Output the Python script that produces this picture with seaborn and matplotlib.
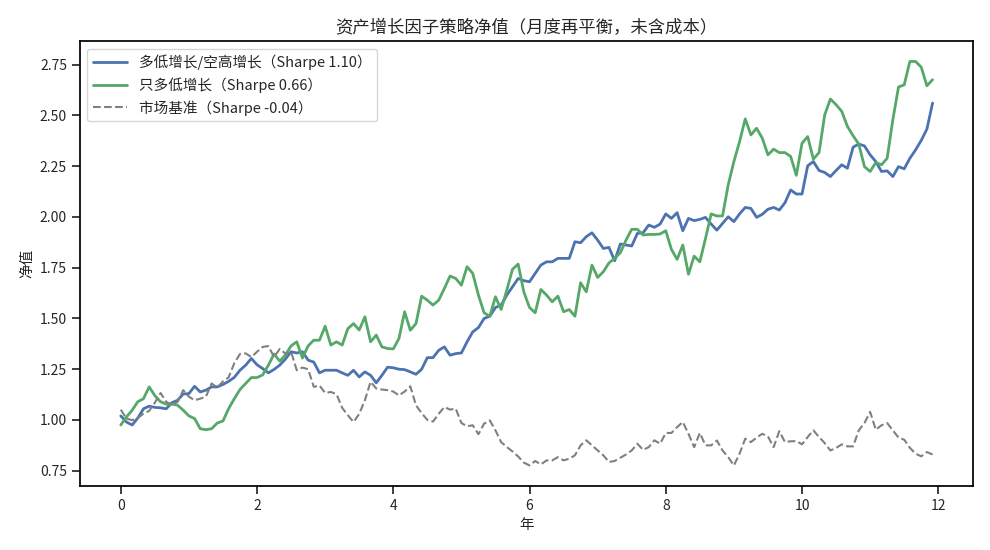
import numpy as np
import pandas as pd
import seaborn as sns
from matplotlib import pyplot as plt

# monthly net value, 12 years
months = np.arange(144)
years = months / 12

long_short = [
    1.02, 0.99, 0.975, 1.01, 1.055, 1.068, 1.062, 1.06, 1.055, 1.085, 1.097, 1.128,
    1.13, 1.166, 1.138, 1.147, 1.163, 1.163, 1.175, 1.19, 1.21, 1.245, 1.27, 1.303,
    1.272, 1.253, 1.232, 1.249, 1.27, 1.30, 1.336, 1.33, 1.336, 1.295, 1.285, 1.232,
    1.245, 1.245, 1.245, 1.232, 1.22, 1.245, 1.212, 1.237, 1.22, 1.183, 1.22, 1.26,
    1.257, 1.25, 1.248, 1.237, 1.225, 1.25, 1.307, 1.307, 1.343, 1.36, 1.319, 1.327,
    1.33, 1.385, 1.434, 1.455, 1.5, 1.511, 1.554, 1.566, 1.615, 1.656, 1.697, 1.686,
    1.681, 1.722, 1.763, 1.779, 1.779, 1.796, 1.796, 1.796, 1.878, 1.873, 1.903, 1.922,
    1.886, 1.845, 1.85, 1.784, 1.867, 1.862, 1.857, 1.919, 1.922, 1.96, 1.949, 1.965,
    2.015, 1.993, 2.021, 1.932, 1.993, 1.982, 1.988, 1.998, 1.965, 1.935, 1.968, 2.001,
    1.977, 2.015, 2.047, 2.042, 1.998, 2.013, 2.038, 2.047, 2.034, 2.07, 2.133, 2.113,
    2.113, 2.252, 2.273, 2.229, 2.219, 2.199, 2.229, 2.257, 2.24, 2.344, 2.359, 2.35,
    2.306, 2.273, 2.224, 2.227, 2.199, 2.248, 2.237, 2.289, 2.33, 2.377, 2.433, 2.561,
]

long_only = [
    0.975, 1.015, 1.048, 1.09, 1.105, 1.163, 1.12, 1.09, 1.078, 1.078, 1.073, 1.048,
    1.02, 1.007, 0.957, 0.952, 0.957, 0.985, 0.995, 1.056, 1.105, 1.15, 1.18, 1.209,
    1.209, 1.222, 1.27, 1.325, 1.29, 1.32, 1.365, 1.385, 1.305, 1.365, 1.393, 1.393,
    1.462, 1.369, 1.385, 1.369, 1.45, 1.475, 1.443, 1.508, 1.385, 1.418, 1.36, 1.352,
    1.35, 1.401, 1.533, 1.442, 1.475, 1.61, 1.59, 1.566, 1.59, 1.648, 1.709, 1.697,
    1.664, 1.755, 1.722, 1.615, 1.528, 1.511, 1.607, 1.544, 1.64, 1.742, 1.768, 1.63,
    1.554, 1.528, 1.643, 1.615, 1.582, 1.61, 1.533, 1.544, 1.511, 1.676, 1.631, 1.763,
    1.702, 1.73, 1.774, 1.796, 1.824, 1.886, 1.939, 1.939, 1.911, 1.914, 1.914, 1.916,
    1.932, 1.84, 1.791, 1.862, 1.718, 1.807, 1.779, 1.894, 2.015, 2.005, 2.005, 2.158,
    2.273, 2.371, 2.483, 2.404, 2.437, 2.388, 2.306, 2.334, 2.317, 2.317, 2.298, 2.205,
    2.363, 2.396, 2.285, 2.317, 2.503, 2.581, 2.553, 2.52, 2.446, 2.4, 2.359, 2.248,
    2.224, 2.268, 2.257, 2.289, 2.479, 2.64, 2.651, 2.766, 2.766, 2.738, 2.646, 2.676,
]

market = [
    1.051, 1.007, 0.999, 1.01, 1.031, 1.045, 1.085, 1.133, 1.09, 1.075, 1.089, 1.147,
    1.115, 1.097, 1.105, 1.115, 1.18, 1.16, 1.19, 1.21, 1.28, 1.325, 1.328, 1.31,
    1.336, 1.36, 1.364, 1.31, 1.35, 1.327, 1.336, 1.245, 1.258, 1.25, 1.163, 1.17,
    1.133, 1.138, 1.127, 1.06, 1.023, 0.99, 1.03, 1.097, 1.188, 1.155, 1.15, 1.147,
    1.14, 1.121, 1.14, 1.166, 1.072, 1.034, 1.0, 0.992, 1.03, 1.064, 1.051, 1.056,
    0.985, 0.969, 0.974, 0.93, 0.982, 0.998, 0.949, 0.891, 0.867, 0.845, 0.82, 0.79,
    0.776, 0.798, 0.781, 0.801, 0.801, 0.817, 0.801, 0.809, 0.826, 0.875, 0.9, 0.875,
    0.85, 0.826, 0.793, 0.798, 0.814, 0.83, 0.85, 0.883, 0.853, 0.866, 0.9, 0.883,
    0.936, 0.936, 0.965, 0.99, 0.932, 0.866, 0.936, 0.875, 0.875, 0.899, 0.85, 0.817,
    0.776, 0.834, 0.908, 0.891, 0.913, 0.932, 0.919, 0.866, 0.945, 0.891, 0.895, 0.896,
    0.88, 0.916, 0.949, 0.916, 0.886, 0.85, 0.862, 0.88, 0.87, 0.87, 0.949, 0.985,
    1.04, 0.952, 0.974, 0.985, 0.949, 0.913, 0.903, 0.863, 0.834, 0.821, 0.842, 0.83,
]

labels = [
    "多低增长/空高增长（Sharpe 1.10）",
    "只多低增长（Sharpe 0.66）",
    "市场基准（Sharpe -0.04）",
]

df = pd.DataFrame({"year": years, "ls": long_short, "lo": long_only, "mkt": market})

# plot
sns.set_theme(style="ticks", palette="deep")
plt.rcParams['font.family'] = ['Noto Sans CJK SC', 'DejaVu Sans']
plt.rcParams['axes.unicode_minus'] = False

fig, ax = plt.subplots(figsize=(9.9, 5.5), dpi=100)
fig.subplots_adjust(left=0.081, right=0.983, top=0.925, bottom=0.117)

pal = sns.color_palette("deep")
sns.lineplot(df, x="year", y="ls", ax=ax, color=pal[0], linewidth=2, label=labels[0])
sns.lineplot(df, x="year", y="lo", ax=ax, color=pal[2], linewidth=2, label=labels[1])
sns.lineplot(df, x="year", y="mkt", ax=ax, color="gray", linewidth=1.5,
             linestyle="--", label=labels[2])

ax.set_title("资产增长因子策略净值（月度再平衡，未含成本）", fontsize=12.5)
ax.set_xlabel("年", fontsize=10.5)
ax.set_ylabel("净值", fontsize=10.5)
ax.tick_params(labelsize=10)
ax.set_xticks([0, 2, 4, 6, 8, 10, 12])
ax.set_yticks([0.75, 1.00, 1.25, 1.50, 1.75, 2.00, 2.25, 2.50, 2.75])
ax.yaxis.set_major_formatter(plt.FuncFormatter(lambda v, p: f"{v:.2f}"))
for s in ax.spines.values():
    s.set_color("black")
ax.legend(loc="upper left", fontsize=10.5, handlelength=2.3)

plt.savefig("out.png", dpi=100)
